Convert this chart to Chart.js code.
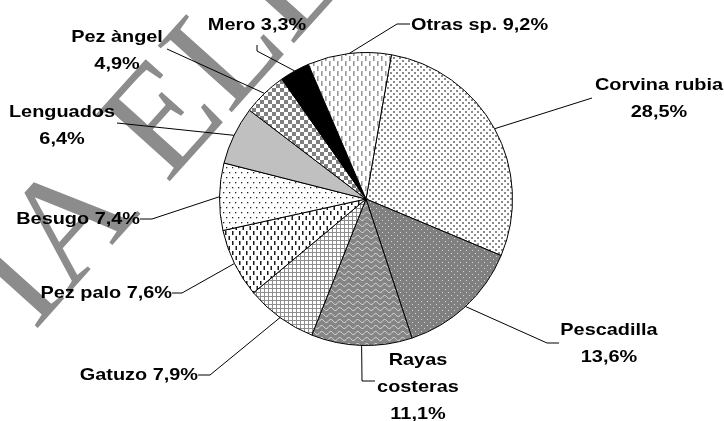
<!DOCTYPE html>
<html>
<head>
<meta charset="utf-8">
<script src="https://cdn.jsdelivr.net/npm/chart.js@4/dist/chart.umd.min.js"></script>
<style>
  html, body { margin: 0; padding: 0; background: #fff; }
  #wrap { width: 724px; height: 421px; position: relative; }
</style>
</head>
<body>
<div id="wrap"><canvas id="js-chartjs-catch"></canvas></div>
<script>
// Data
const categories = ['Corvina rubia', 'Pescadilla', 'Rayas costeras', 'Gatuzo', 'Pez palo',
  'Besugo', 'Lenguados', 'Pez àngel', 'Mero', 'Otras sp.'];
const shares = [28.5, 13.6, 11.1, 7.9, 7.6, 7.4, 6.4, 4.9, 3.3, 9.2];
const watermarkText = 'IA ELE';

// Label placement, offsets from the pie centre (px)
// wrap: 0 = one line, 1 = name / value, 2 = every word on its own line
const labelLayout = [
  { x: 293, y: -114, align: 'center', wrap: 1, line: [[226, -101]] },
  { x: 243, y: 131, align: 'center', wrap: 1, line: [[181, 144], [193, 144]] },
  { x: 52, y: 161, align: 'center', wrap: 2, line: [[-4, 182], [9, 182]] },
  { x: -168, y: 176, align: 'right', wrap: 0, line: [[-156, 176], [-168, 176]] },
  { x: -194, y: 94, align: 'right', wrap: 0, line: [[-184, 94], [-194, 94]] },
  { x: -226, y: 20, align: 'right', wrap: 0, line: [[-214, 20], [-226, 20]] },
  { x: -304, y: -87, align: 'center', wrap: 1, line: [[-249, -76]] },
  { x: -249, y: -162, align: 'center', wrap: 1, line: [[-199, -150]] },
  { x: -109, y: -174, align: 'center', wrap: 0, line: [[-109, -148], [-109, -154]] },
  { x: 45, y: -174, align: 'left', wrap: 0, line: [[31, -175], [44, -175]] }
];

// Fill patterns (black and white print style)
function tile(w, h, draw) {
  let c = document.createElement('canvas');
  c.width = w;
  c.height = h;
  let g = c.getContext('2d');
  draw(g);
  return g.createPattern(c, 'repeat');
}

const fills = [
  tile(6, 6, g => {
    g.fillStyle = '#fff'; g.fillRect(0, 0, 6, 6);
    g.fillStyle = '#8a8a8a'; g.fillRect(0, 0, 2, 2); g.fillRect(3, 3, 2, 2);
  }),
  tile(6, 6, g => {
    g.fillStyle = '#808080'; g.fillRect(0, 0, 6, 6);
    g.fillStyle = '#d4d4d4'; g.fillRect(1, 1, 1, 1); g.fillRect(4, 4, 1, 1);
  }),
  tile(9, 6, g => {
    g.fillStyle = '#858585'; g.fillRect(0, 0, 9, 6);
    g.strokeStyle = '#e2e2e2'; g.lineWidth = 1;
    g.beginPath();
    for (let x = 0; x <= 9; x += 0.5) {
      let y = 3 + 1.6 * Math.sin(x / 9 * Math.PI * 2);
      if (x === 0) g.moveTo(x, y); else g.lineTo(x, y);
    }
    g.stroke();
  }),
  tile(4, 4, g => {
    g.fillStyle = '#8e8e8e'; g.fillRect(0, 0, 4, 4);
    g.fillStyle = '#fff'; g.fillRect(1, 1, 3, 3);
  }),
  tile(7, 10, g => {
    g.fillStyle = '#fff'; g.fillRect(0, 0, 7, 10);
    g.fillStyle = '#1a1a1a'; g.fillRect(1, 1, 1.5, 4); g.fillRect(4.5, 6, 1.5, 4);
  }),
  tile(6, 10, g => {
    g.fillStyle = '#fff'; g.fillRect(0, 0, 6, 10);
    g.fillStyle = '#222'; g.fillRect(1, 2, 1.3, 1.3); g.fillRect(4, 7, 1.3, 1.3);
  }),
  '#c0c0c0',
  tile(8, 8, g => {
    g.fillStyle = '#fff'; g.fillRect(0, 0, 8, 8);
    g.fillStyle = '#808080'; g.fillRect(0, 0, 4, 4); g.fillRect(4, 4, 4, 4);
  }),
  '#000',
  tile(8, 10, g => {
    g.fillStyle = '#fff'; g.fillRect(0, 0, 8, 10);
    g.fillStyle = '#9a9a9a'; g.fillRect(1, 1, 1.6, 5); g.fillRect(5, 6, 1.6, 5); g.fillRect(5, 0, 1.6, 1);
  })
];

// Watermark behind the pie
const watermark = {
  id: 'watermark',
  beforeDatasetsDraw(chart) {
    const ctx = chart.ctx;
    ctx.save();
    ctx.translate(34, 332);
    ctx.rotate(-48 * Math.PI / 180);
    ctx.font = '152px "Liberation Serif"';
    ctx.fillStyle = '#8c8c8c';
    ctx.textBaseline = 'alphabetic';
    ctx.fillText(watermarkText, 0, 0);
    ctx.restore();
  }
};

// Labels with leader lines
function labelLines(i, wrap) {
  const pct = shares[i].toFixed(1).replace('.', ',') + '%';
  if (wrap === 0) return [categories[i] + ' ' + pct];
  if (wrap === 1) return [categories[i], pct];
  return categories[i].split(' ').concat([pct]);
}

const pieLabels = {
  id: 'pieLabels',
  afterDatasetsDraw(chart) {
    const ctx = chart.ctx;
    const meta = chart.getDatasetMeta(0);
    ctx.save();
    meta.data.forEach((arc, i) => {
      const lay = labelLayout[i];
      const cx = arc.x, cy = arc.y;
      const mid = (arc.startAngle + arc.endAngle) / 2;
      const ex = cx + Math.cos(mid) * arc.outerRadius;
      const ey = cy + Math.sin(mid) * arc.outerRadius;

      ctx.strokeStyle = '#000';
      ctx.lineWidth = 1;
      ctx.beginPath();
      ctx.moveTo(ex, ey);
      lay.line.forEach(p => ctx.lineTo(cx + p[0], cy + p[1]));
      ctx.stroke();

      const lines = labelLines(i, lay.wrap);
      ctx.fillStyle = '#000';
      ctx.font = 'bold 17px "Liberation Sans", Arial, sans-serif';
      ctx.textAlign = lay.align;
      ctx.textBaseline = 'middle';
      lines.forEach((t, k) => {
        ctx.save();
        ctx.translate(cx + lay.x, cy + lay.y + k * 27);
        ctx.scale(1.17, 1);
        ctx.fillText(t, 0, 0);
        ctx.restore();
      });
    });
    ctx.restore();
  }
};

new Chart(document.getElementById('js-chartjs-catch'), {
  type: 'pie',
  data: {
    labels: categories,
    datasets: [{
      data: shares,
      backgroundColor: fills,
      borderColor: '#000',
      borderWidth: 1
    }]
  },
  options: {
    responsive: true,
    maintainAspectRatio: false,
    animation: false,
    rotation: 10,
    layout: {
      padding: { left: 219, right: 211, top: 52, bottom: 75 }
    },
    plugins: {
      legend: { display: false },
      tooltip: { enabled: false }
    }
  },
  plugins: [watermark, pieLabels]
});
</script>
</body>
</html>
